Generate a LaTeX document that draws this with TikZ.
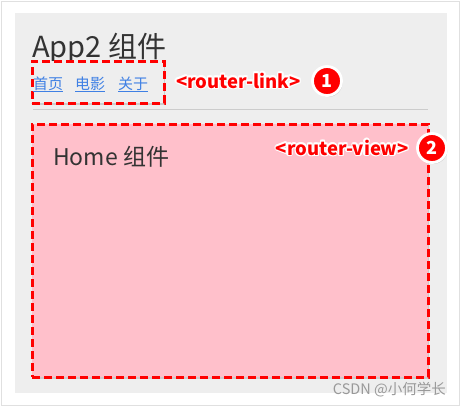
\documentclass[tikz,border=0pt]{standalone}
\usepackage{fontspec}
\setmainfont{Noto Sans CJK SC}
\usepackage{contour}
\contourlength{1.3pt}
\contournumber{10}
\usetikzlibrary{shadows}

\definecolor{panelgray}{HTML}{EEEEEE}
\definecolor{linkblue}{HTML}{3F80E4}
\definecolor{viewpink}{HTML}{FFC0CB}

\tikzset{
  dashbox/.style={draw=red, line width=3pt, dash pattern=on 8pt off 4pt,
    inner sep=0pt, drop shadow={opacity=0.3, shadow xshift=1pt, shadow yshift=-1.5pt}},
  tag/.style={font=\fontsize{18.5}{18.5}\selectfont\bfseries, inner sep=0pt, anchor=base west},
  badge/.style={circle, fill=red, draw=white, line width=2.8pt, minimum size=29pt,
    inner sep=0pt, text=white, font=\fontsize{18}{18}\selectfont\bfseries,
    drop shadow={opacity=0.35, shadow xshift=1pt, shadow yshift=-1.5pt}},
  navlink/.style={font=\fontsize{15}{15}\selectfont, text=linkblue, inner sep=0pt, anchor=base west}
}

% texte rouge cerne de blanc
\newcommand{\redtag}[1]{\contour{white}{\textcolor{red}{#1}}}

\begin{document}
\begin{tikzpicture}[x=1pt,y=-1pt]
\useasboundingbox (0,0) rectangle (461,407);

%le fond
\fill[white] (0,0) rectangle (461,407);
\draw[black!12, line width=1pt] (1.5,1.5) rectangle (459.5,405.5);
\fill[panelgray] (15,13) rectangle (447,393);% panneau gris

%le titre et les liens
\node[anchor=base west, inner sep=0pt, text=black!80, font=\fontsize{29}{29}\selectfont] (title) at (32,57) {App2 组件};
\node[dashbox, fill=panelgray, minimum width=132pt, minimum height=42pt] (linkbox) at (98,82) {};
\node[navlink] (home link) at (33,89) {\underline{首页}};
\node[navlink] (movie link) at (75,89) {\underline{电影}};
\node[navlink] (about link) at (118,89) {\underline{关于}};
\node[tag] (linktag) at (176,88) {\redtag{<router-link>}};
\node[badge] (badgeone) at (327,81) {1};

%la ligne
\coordinate (rule left) at (33,109);
\coordinate (rule right) at (428,109);
\draw[black!20, line width=0.8pt] (rule left) -- (rule right);

%la vue
\node[dashbox, fill=viewpink, minimum width=396pt, minimum height=253pt] (viewbox) at (230,250.5) {};
\node[anchor=base west, inner sep=0pt, text=black!80, font=\fontsize{23}{23}\selectfont] (homeview) at (53,165) {Home 组件};
\node[tag, anchor=base east] (viewtag) at (409,155) {\redtag{<router-view>}};
\node[badge] (badgetwo) at (432,148) {2};

%la signature
\node[anchor=base east, inner sep=0pt, text=black!40, font=\fontsize{14.5}{14.5}\selectfont] (watermark) at (446,394) {CSDN @小何学长};
\end{tikzpicture}
\end{document}
